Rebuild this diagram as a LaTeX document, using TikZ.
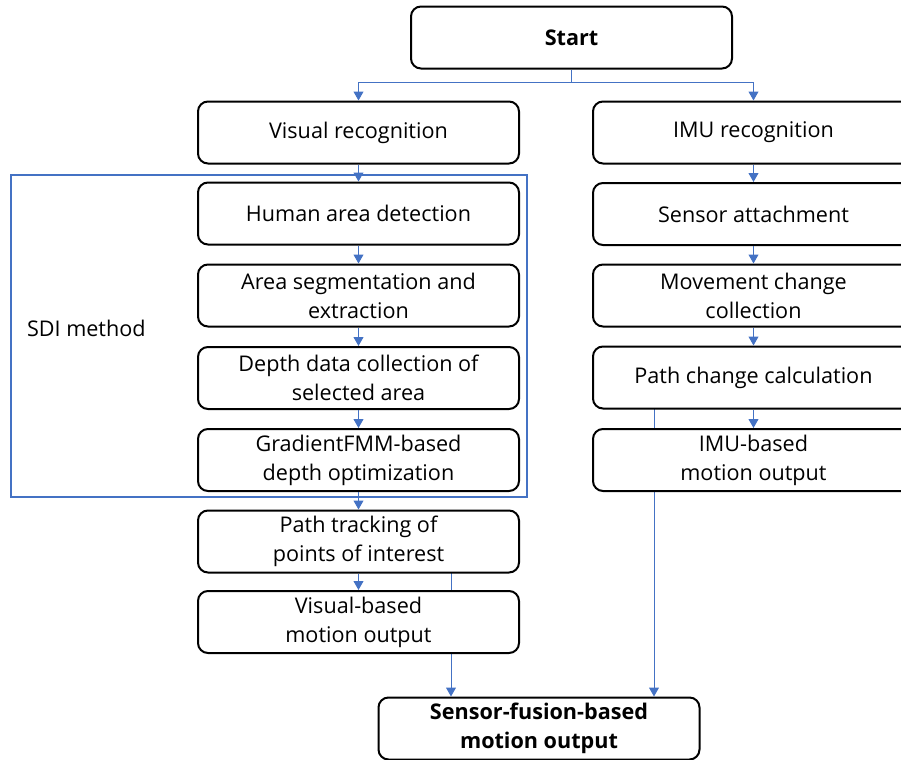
\documentclass[tikz,border=0pt]{standalone}
\usepackage{fontspec}
\setmainfont{Open Sans}
\usetikzlibrary{arrows.meta,backgrounds}
\definecolor{flowblue}{HTML}{4472C4}
\tikzset{
  stepbox/.style={draw=black,line width=1pt,rounded corners=5pt,fill=white,
    minimum width=160.5pt,minimum height=31pt,align=center,inner sep=2pt,
    font=\fontsize{10.8}{14.5}\selectfont},
  boldbox/.style={stepbox,font=\fontsize{10.8}{14.5}\selectfont\bfseries},
  flow/.style={draw=flowblue,line width=0.5pt,-{Triangle[width=5pt,length=4.5pt]}},
  link/.style={draw=flowblue,line width=0.5pt},
}

\begin{document}
\begin{tikzpicture}[x=0.5pt,y=-0.5pt]
        \useasboundingbox (0,0) rectangle (901,760);
        % top
        \node[boldbox] (start) at (571.5,37.5) {Start};
        \node[stepbox] (visual) at (358.5,132.5) {Visual recognition};
        \node[stepbox] (imu) at (753.5,132.5) {IMU recognition};
        % visual branch
        \node[stepbox] (human) at (358.5,213.5) {Human area detection};
        \node[stepbox] (segment) at (358.5,295.5) {Area segmentation and\\extraction};
        \node[stepbox] (depth) at (358.5,378) {Depth data collection of\\selected area};
        \node[stepbox] (gradfmm) at (358.5,460) {GradientFMM-based\\depth optimization};
        \node[stepbox] (track) at (358.5,541.5) {Path tracking of\\points of interest};
        \node[stepbox] (vout) at (358.5,622) {Visual-based\\motion output};
        % imu branch
        \node[stepbox] (attach) at (753.5,214) {Sensor attachment};
        \node[stepbox] (movement) at (753.5,295.5) {Movement change\\collection};
        \node[stepbox] (pathchange) at (753.5,377.5) {Path change calculation};
        \node[stepbox] (imuout) at (753.5,460) {IMU-based\\motion output};
        % end
        \node[boldbox] (fusion) at (539,728.5) {Sensor-fusion-based\\motion output};
        \node[anchor=west,font=\fontsize{10.8}{14.5}\selectfont] (sdi) at (20,328) {SDI method};
        \draw[flowblue,line width=1pt] (11,175) rectangle (527,497);

        \coordinate (branch) at (571.5,82);
        \coordinate (vtap) at (451,572);
        \coordinate (itap) at (654,408);
        \draw[link] (start.south) -- (branch);
        \draw[flow] (branch) -| (visual.north);
        \draw[flow] (branch) -| (imu.north);
        \draw[flow] (visual) -- (human);
        \draw[flow] (human) -- (segment);
        \draw[flow] (segment) -- (depth);
        \draw[flow] (depth) -- (gradfmm);
        \draw[flow] (gradfmm) -- (track);
        \draw[flow] (track) -- (vout);
        \draw[flow] (imu) -- (attach);
        \draw[flow] (attach) -- (movement);
        \draw[flow] (movement) -- (pathchange);
        \draw[flow] (pathchange) -- (imuout);
        \begin{pgfonlayer}{background}
          \draw[flow] (vtap) -- (vtap |- fusion.north);
          \draw[flow] (itap) -- (itap |- fusion.north);
        \end{pgfonlayer}
      \end{tikzpicture}
\end{document}
